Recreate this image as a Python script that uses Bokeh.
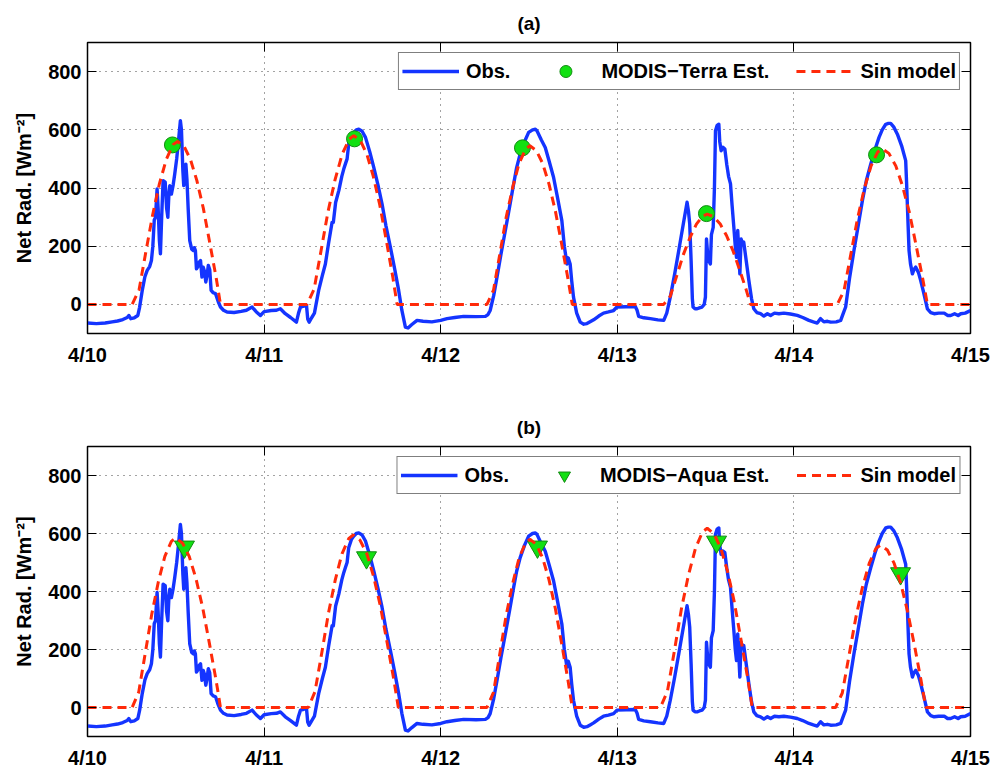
from bokeh.plotting import figure
from bokeh.models import Range1d, FixedTicker, LinearAxis, Legend, LegendItem
from bokeh.layouts import column
from bokeh.embed import file_html
from bokeh.resources import INLINE

FONT = "Liberation Sans"

# ---------------- data (x in days since 4/10 00:00) ----------------
day_ticks = [0, 1, 2, 3, 4, 5]
day_labels = ["4/10", "4/11", "4/12", "4/13", "4/14", "4/15"]
y_ticks = [0, 200, 400, 600, 800]
titles = ["(a)", "(b)"]
y_label = "Net Rad. [Wm\u207b\u00b2]"

obs_t = [0.000, 0.050, 0.100, 0.140, 0.170, 0.200, 0.225, 0.234, 0.245, 0.265, 0.285, 0.295,
         0.310, 0.325, 0.338, 0.352, 0.362, 0.370, 0.378, 0.385, 0.394, 0.400, 0.407, 0.413,
         0.420, 0.428, 0.440, 0.448, 0.455, 0.461, 0.466, 0.475, 0.485, 0.494, 0.505, 0.515,
         0.526, 0.532, 0.540, 0.545, 0.551, 0.557, 0.563, 0.570, 0.579, 0.590, 0.600, 0.605,
         0.611, 0.617, 0.625, 0.632, 0.640, 0.648, 0.655, 0.662, 0.670, 0.677, 0.684, 0.692,
         0.700, 0.712, 0.725, 0.740, 0.753, 0.770, 0.790, 0.830, 0.870, 0.900, 0.932, 0.955,
         0.979, 1.000, 1.040, 1.070, 1.092, 1.120, 1.150, 1.183, 1.195, 1.206, 1.225, 1.240,
         1.247, 1.255, 1.270, 1.285, 1.309, 1.330, 1.347, 1.365, 1.385, 1.392, 1.405, 1.423,
         1.440, 1.451, 1.460, 1.470, 1.479, 1.495, 1.508, 1.522, 1.536, 1.555, 1.574, 1.598,
         1.621, 1.645, 1.668, 1.690, 1.715, 1.740, 1.762, 1.780, 1.800, 1.815, 1.835, 1.866,
         1.900, 1.950, 2.000, 2.036, 2.080, 2.130, 2.200, 2.253, 2.268, 2.280, 2.300, 2.319,
         2.342, 2.366, 2.390, 2.413, 2.430, 2.450, 2.475, 2.498, 2.520, 2.536, 2.545, 2.570,
         2.592, 2.615, 2.639, 2.662, 2.686, 2.700, 2.715, 2.722, 2.733, 2.742, 2.752, 2.770,
         2.790, 2.810, 2.828, 2.846, 2.866, 2.895, 2.922, 2.950, 2.979, 2.998, 3.050, 3.102,
         3.112, 3.121, 3.150, 3.187, 3.230, 3.263, 3.280, 3.300, 3.325, 3.348, 3.372, 3.395,
         3.403, 3.410, 3.418, 3.425, 3.429, 3.440, 3.452, 3.465, 3.480, 3.492, 3.499, 3.505,
         3.512, 3.518, 3.527, 3.533, 3.543, 3.550, 3.556, 3.565, 3.575, 3.580, 3.588, 3.598,
         3.609, 3.620, 3.630, 3.641, 3.650, 3.660, 3.668, 3.675, 3.682, 3.688, 3.694, 3.701,
         3.709, 3.716, 3.730, 3.745, 3.760, 3.773, 3.790, 3.811, 3.830, 3.850, 3.868, 3.890,
         3.915, 3.943, 3.980, 4.019, 4.050, 4.085, 4.110, 4.132, 4.151, 4.170, 4.190, 4.208,
         4.240, 4.265, 4.280, 4.293, 4.315, 4.340, 4.364, 4.388, 4.410, 4.435, 4.458, 4.482,
         4.500, 4.520, 4.535, 4.548, 4.565, 4.586, 4.610, 4.633, 4.638, 4.643, 4.648, 4.652,
         4.660, 4.671, 4.680, 4.690, 4.705, 4.718, 4.735, 4.756, 4.775, 4.794, 4.820, 4.851,
         4.870, 4.888, 4.910, 4.930, 4.945, 4.970, 5.000]
obs_v = [-64, -66, -64, -60, -57, -52, -45, -38, -49, -46, -38, -10,
         48, 95, 117, 130, 151, 200, 290, 299, 397, 330, 220, 174,
         300, 425, 420, 330, 299, 380, 408, 379, 410, 448, 500, 560,
         631, 600, 460, 408, 450, 482, 430, 330, 219, 190, 185, 195,
         185, 122, 130, 145, 151, 94, 128, 115, 77, 100, 134, 120,
         48, 40, 37, 10, -9, -20, -26, -28, -24, -20, -9, -25,
         -38, -25, -21, -20, -15, -32, -45, -61, -30, -9, -6, -3,
         -50, -61, -45, -30, 48, 100, 139, 210, 282, 282, 350, 391,
         440, 465, 482, 500, 551, 580, 591, 600, 602, 595, 574, 525,
         471, 410, 345, 270, 197, 120, 48, -20, -78, -81, -70, -55,
         -58, -60, -55, -49, -45, -41, -42, -41, -35, -21, 30, 94,
         175, 254, 335, 414, 470, 517, 560, 591, 600, 602, 597, 565,
         539, 490, 437, 365, 288, 200, 139, 160, 139, 80, 25, -30,
         -61, -68, -66, -60, -53, -40, -30, -26, -21, -9, -8, -7,
         -20, -41, -46, -49, -53, -55, -30, 25, 105, 185, 270, 351,
         320, 277, 150, 20, -9, -15, -15, -12, -9, 0, 25, 225,
         170, 150, 139, 240, 265, 400, 597, 615, 619, 560, 528, 540,
         534, 480, 440, 414, 340, 265, 200, 162, 254, 180, 105, 225,
         210, 214, 150, 82, 20, -15, -28, -32, -40, -32, -38, -30,
         -32, -30, -33, -38, -45, -55, -60, -64, -49, -60, -58, -61,
         -60, -55, -30, -9, 90, 185, 270, 357, 425, 482, 530, 574,
         600, 619, 622, 622, 610, 585, 545, 494, 420, 334, 250, 185,
         140, 105, 120, 128, 110, 82, 40, -15, -28, -32, -30, -30,
         -38, -38, -32, -38, -32, -30, -21]

# sin model, panel (a)
sin_a_t = [0.000,
           0.253, 0.292, 0.330, 0.369, 0.407, 0.446, 0.484, 0.510, 0.547, 0.583, 0.619, 0.656, 0.692, 0.729, 0.753,
           1.243, 1.283, 1.323, 1.362, 1.402, 1.442, 1.482, 1.508, 1.545, 1.582, 1.618, 1.655, 1.692, 1.729, 1.753,
           2.262, 2.299, 2.335, 2.371, 2.408, 2.444, 2.481, 2.505, 2.541, 2.577, 2.613, 2.649, 2.685, 2.721, 2.745,
           3.263, 3.300, 3.337, 3.374, 3.411, 3.448, 3.484, 3.509, 3.546, 3.583, 3.619, 3.656, 3.693, 3.730, 3.754,
           4.246, 4.284, 4.322, 4.360, 4.398, 4.437, 4.475, 4.500, 4.538, 4.577, 4.615, 4.654, 4.692, 4.730, 4.756,
           5.000]
sin_a_v = [0,
           0, 50, 179, 308, 414, 498, 549, 560, 543, 498, 426, 330, 213, 90, 0,
           0, 52, 186, 319, 429, 516, 568, 580, 563, 516, 441, 342, 220, 93, 0,
           0, 49, 174, 300, 403, 485, 534, 545, 529, 485, 414, 322, 207, 87, 0,
           0, 28, 99, 171, 229, 276, 304, 310, 301, 276, 236, 183, 118, 50, 0,
           0, 48, 171, 294, 396, 476, 524, 535, 519, 476, 407, 316, 203, 86, 0,
           0]

# sin model, panel (b)
sin_b_t = [0.000,
           0.253, 0.290, 0.327, 0.364, 0.401, 0.438, 0.475, 0.500, 0.538, 0.576, 0.614, 0.652, 0.690, 0.728, 0.753,
           1.250, 1.288, 1.327, 1.365, 1.403, 1.441, 1.480, 1.505, 1.543, 1.582, 1.620, 1.658, 1.696, 1.735, 1.760,
           2.262, 2.299, 2.335, 2.371, 2.408, 2.444, 2.481, 2.505, 2.541, 2.577, 2.613, 2.649, 2.685, 2.721, 2.745,
           3.244, 3.284, 3.324, 3.363, 3.403, 3.443, 3.483, 3.509, 3.547, 3.586, 3.624, 3.662, 3.700, 3.739, 3.764,
           4.236, 4.274, 4.312, 4.350, 4.388, 4.427, 4.465, 4.490, 4.529, 4.567, 4.606, 4.644, 4.683, 4.721, 4.747,
           5.000]
sin_b_v = [0,
           0, 53, 187, 322, 433, 521, 573, 585, 567, 521, 445, 345, 222, 94, 0,
           0, 54, 190, 327, 440, 530, 583, 595, 577, 530, 452, 351, 226, 95, 0,
           0, 52, 186, 319, 429, 516, 568, 580, 563, 516, 441, 342, 220, 93, 0,
           0, 56, 198, 340, 457, 550, 606, 618, 599, 550, 470, 365, 235, 99, 0,
           0, 50, 179, 308, 414, 498, 549, 560, 543, 498, 426, 330, 213, 90, 0,
           0]

# MODIS estimates
terra_t = [0.481, 1.512, 2.463, 3.505, 4.468]
terra_v = [548, 569, 538, 312, 514]
aqua_t = [0.549, 1.580, 2.548, 3.562, 4.604]
aqua_v = [554, 517, 554, 571, 462]

OBS_COLOR = "#1434ff"
SIN_COLOR = "#ff2a0a"
EST_FILL = "#12e012"
EST_LINE = "#128a12"


def make_panel(title, sin_t, sin_v, est_t, est_v, marker, est_size, est_label,
               height, top, bottom):
    p = figure(width=995, height=height, x_range=Range1d(0, 5), y_range=Range1d(-100, 900),
               output_backend="svg", toolbar_location=None,
               min_border_left=87, min_border_right=25,
               min_border_top=top, min_border_bottom=bottom)
    p.title.text = title
    p.title.align = "center"
    p.title.text_font = FONT
    p.title.text_font_size = "19px"
    p.title.text_font_style = "bold"
    p.title.text_color = "black"
    p.title.standoff = 18

    p.outline_line_color = "black"
    p.outline_line_width = 1.5
    p.outline_line_alpha = 1

    p.xaxis.ticker = FixedTicker(ticks=day_ticks)
    p.xaxis.major_label_overrides = {t: l for t, l in zip(day_ticks, day_labels)}
    p.yaxis.ticker = FixedTicker(ticks=y_ticks)
    for ax in list(p.xaxis) + list(p.yaxis):
        ax.major_tick_in = 9
        ax.major_tick_out = 0
        ax.minor_tick_line_color = None
        ax.axis_line_color = "black"
        ax.major_tick_line_color = "black"
        ax.major_label_text_font = FONT
        ax.major_label_text_font_size = "20px"
        ax.major_label_text_font_style = "bold"
        ax.major_label_text_color = "black"
    p.xaxis.major_label_standoff = 10
    p.yaxis.major_label_standoff = 6
    p.yaxis.axis_label = y_label
    p.yaxis.axis_label_text_font = FONT
    p.yaxis.axis_label_text_font_size = "20px"
    p.yaxis.axis_label_text_font_style = "bold"
    p.yaxis.axis_label_text_color = "black"
    p.yaxis.axis_label_standoff = 10

    # mirrored ticks (no labels) on right and top
    r_ax = LinearAxis(ticker=FixedTicker(ticks=y_ticks), major_tick_in=9, major_tick_out=0,
                      minor_tick_line_color=None, major_label_standoff=0,
                      major_label_overrides={t: "" for t in y_ticks},
                      axis_line_color="black")
    t_ax = LinearAxis(ticker=FixedTicker(ticks=day_ticks), major_tick_in=9, major_tick_out=0,
                      minor_tick_line_color=None, major_label_standoff=0,
                      major_label_overrides={t: "" for t in day_ticks},
                      axis_line_color="black")
    p.add_layout(r_ax, "right")
    p.add_layout(t_ax, "above")

    for g in (p.xgrid, p.ygrid):
        g.grid_line_color = "#333333"
        g.grid_line_dash = "1 5"
        g.grid_line_width = 1
        g.grid_line_alpha = 0.9
    p.xgrid.ticker = FixedTicker(ticks=day_ticks)
    p.ygrid.ticker = FixedTicker(ticks=y_ticks)

    r_obs = p.line(obs_t, obs_v, line_color=OBS_COLOR, line_width=3.4, line_join="round")
    r_est = p.scatter(est_t, est_v, marker=marker, size=est_size, fill_color=EST_FILL,
                      line_color=EST_LINE, line_width=1)
    r_sin = p.line(sin_t, sin_v, line_color=SIN_COLOR, line_width=3, line_dash="9 6")

    legend = Legend(items=[LegendItem(label="Obs.", renderers=[r_obs]),
                           LegendItem(label=est_label, renderers=[r_est]),
                           LegendItem(label="Sin model", renderers=[r_sin])],
                    orientation="horizontal", location="top_right", margin=10,
                    padding=3, spacing=27, glyph_width=57, glyph_height=30,
                    label_standoff=7, label_height=22,
                    label_text_font=FONT, label_text_font_size="20px",
                    label_text_font_style="bold", label_text_color="black",
                    border_line_color="black", border_line_width=1.5,
                    background_fill_color="white", background_fill_alpha=1)
    p.add_layout(legend)
    return p


pa = make_panel(titles[0], sin_a_t, sin_a_v, terra_t, terra_v, "circle", 16,
                "MODIS\u2212Terra Est.", 386, 42, 53)
pb = make_panel(titles[1], sin_b_t, sin_b_v, aqua_t, aqua_v, "inverted_triangle", 20,
                "MODIS\u2212Aqua Est.", 385, 60, 34)

layout = column(pa, pb, spacing=0)
open("out.html", "w").write(file_html(layout, INLINE))
